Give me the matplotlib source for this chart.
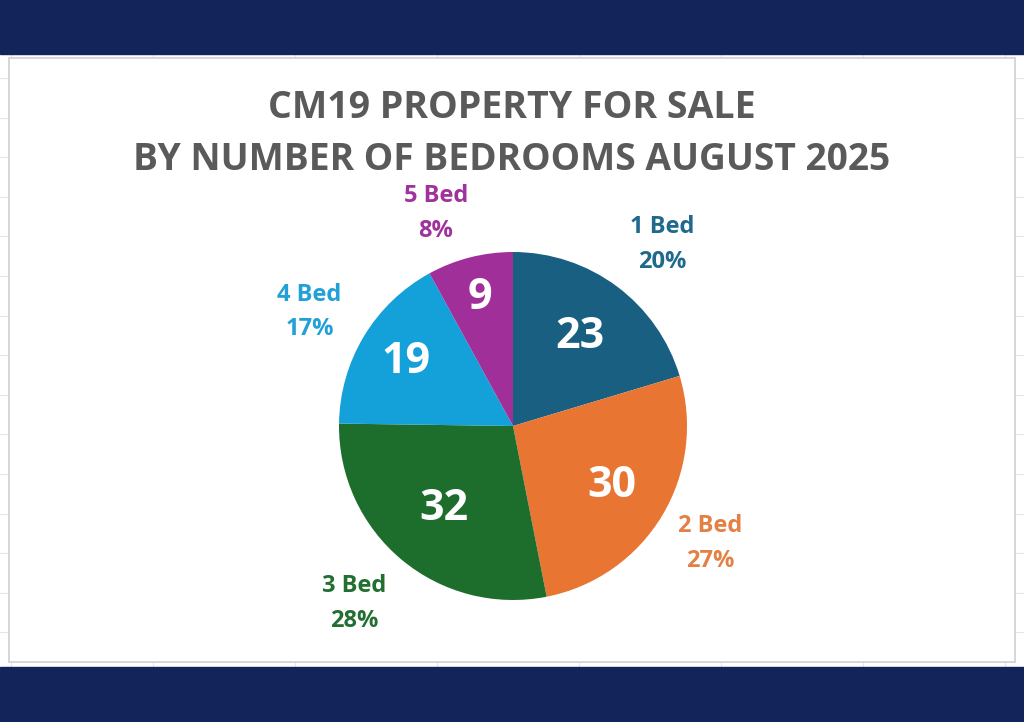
import numpy as np
import matplotlib
matplotlib.use('Agg')
import matplotlib.pyplot as plt
from matplotlib.patches import Rectangle

plt.rcParams['font.family'] = ['Open Sans', 'DejaVu Sans']

# data
beds = ['1 Bed', '2 Bed', '3 Bed', '4 Bed', '5 Bed']
counts = [23, 30, 32, 19, 9]
slice_colors = ['#195f81', '#e97532', '#1d6d2d', '#14a0d8', '#a02f9a']
label_colors = ['#1f6a8c', '#e38046', '#236f32', '#22a1d7', '#a0339b']
title_lines = ['CM19 PROPERTY FOR SALE', 'BY NUMBER OF BEDROOMS AUGUST 2025']

W, H = 1024, 722
fig = plt.figure(figsize=(W / 100, H / 100), dpi=100)
fig.patch.set_facecolor('white')

# background sheet grid + bars + panel, in pixel coords
bg = fig.add_axes([0, 0, 1, 1])
bg.set_xlim(0, W)
bg.set_ylim(H, 0)
bg.axis('off')
for gx in np.arange(11, W, 142):
    bg.axvline(gx, color='#e6e6e6', lw=0.8, zorder=0)
for gy in np.arange(78, H, 39.6):
    bg.axhline(gy, color='#e6e6e6', lw=0.8, zorder=0)
bg.add_patch(Rectangle((0, 0), W, 54, color='#13245a', zorder=2))
bg.add_patch(Rectangle((0, 667), W, 55, color='#13245a', zorder=2))
bg.add_patch(Rectangle((9, 58), 1006, 604, facecolor='white',
                       edgecolor='#cfcfcf', lw=1.2, zorder=1))

# title
fig.text(0.5, 1 - 108 / H, title_lines[0], ha='center', va='center',
         fontsize=27, fontweight='bold', color='#5a5a5a')
fig.text(0.5, 1 - 160 / H, title_lines[1], ha='center', va='center',
         fontsize=26.7, fontweight='bold', color='#5a5a5a')

# pie
cx, cy, r = 513, 426, 174
ax = fig.add_axes([(cx - r) / W, 1 - (cy + r) / H, 2 * r / W, 2 * r / H])
total = sum(counts)
labels = [f'{b}\n{round(c / total * 100)}%' for b, c in zip(beds, counts)]
wedges, texts, autotexts = ax.pie(
    counts, labels=labels, colors=slice_colors, startangle=90,
    counterclock=False, labeldistance=1.34, pctdistance=0.66,
    autopct=lambda p: f'{round(p * total / 100)}',
    wedgeprops=dict(linewidth=0))
ax.set_xlim(-1, 1)
ax.set_ylim(-1, 1)

# label placement tweaks (distance, angle shift in degrees)
outer_dist = [1.35, 1.32, 1.37, 1.34, 1.30]
outer_shift = [-2.7, 0.3, -2.0, 1.8, 5.6]
inner_dist = [0.64, 0.66, 0.62, 0.72, 0.76]
for i, (w, t, at) in enumerate(zip(wedges, texts, autotexts)):
    mid = (w.theta1 + w.theta2) / 2
    a_out = np.deg2rad(mid + outer_shift[i])
    t.set_position((outer_dist[i] * np.cos(a_out), outer_dist[i] * np.sin(a_out)))
    t.set_ha('center')
    t.set_va('center')
    t.set_color(label_colors[i])
    t.set_fontsize(17)
    t.set_fontweight('bold')
    t.set_linespacing(1.6)
    a_in = np.deg2rad(mid)
    at.set_position((inner_dist[i] * np.cos(a_in), inner_dist[i] * np.sin(a_in)))
    at.set_color('white')
    at.set_fontsize(31)
    at.set_fontweight('bold')

fig.savefig('out.png', dpi=100, facecolor='white')
